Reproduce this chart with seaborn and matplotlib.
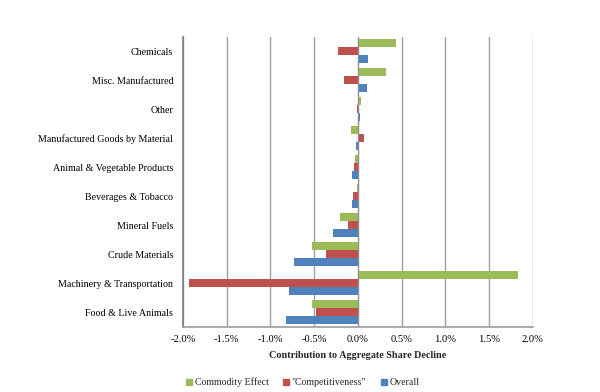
import matplotlib
matplotlib.use("Agg")
import matplotlib.pyplot as plt
import seaborn as sns
import pandas as pd
from matplotlib.ticker import FuncFormatter
from matplotlib.lines import Line2D

categories = ["Chemicals", "Misc. Manufactured", "Other", "Manufactured Goods by Material",
              "Animal & Vegetable Products", "Beverages & Tobacco", "Mineral Fuels",
              "Crude Materials", "Machinery & Transportation", "Food & Live Animals"]
series = ["Commodity Effect", "\"Competitiveness\"", "Overall"]
commodity = [0.43, 0.32, 0.04, -0.08, -0.035, -0.01, -0.21, -0.53, 1.83, -0.52]
competitiveness = [-0.225, -0.16, -0.01, 0.065, -0.05, -0.06, -0.11, -0.37, -1.93, -0.48]
overall = [0.12, 0.10, 0.02, -0.025, -0.065, -0.065, -0.28, -0.73, -0.79, -0.82]
xticks = [-2.0, -1.5, -1.0, -0.5, 0.0, 0.5, 1.0, 1.5, 2.0]
colors = ["#9BBB59", "#C0504D", "#4F81BD"]

rows = []
for vals, s in zip([commodity, competitiveness, overall], series):
    for c, v in zip(categories, vals):
        rows.append({"category": c, "series": s, "value": v})
df = pd.DataFrame(rows)

sns.set_theme(style="white")
plt.rcParams["font.family"] = ["Liberation Serif", "DejaVu Serif"]

fig = plt.figure(figsize=(6, 3.92), dpi=100)
ax = fig.add_axes([0.305, 0.166, 0.583, 0.740])
sns.barplot(data=df, y="category", x="value", hue="series", order=categories,
            hue_order=series, palette=colors, orient="h", width=0.83,
            saturation=1, ax=ax, legend=False, linewidth=0)

ax.set_xlim(-2.0, 2.0)
ax.set_xticks(xticks)
ax.xaxis.set_major_formatter(FuncFormatter(lambda v, p: f"{v:.1f}%"))
ax.grid(axis="x", color="#A0A0A0", linewidth=1.0)
ax.set_axisbelow(True)
ax.axvline(0, color="#909090", linewidth=0.8, zorder=1)
ax.tick_params(axis="x", length=0, labelsize=7.6, colors="black", pad=6)
ax.tick_params(axis="y", length=0, labelsize=7.2, colors="black", pad=7)
ax.set_ylabel("")
ax.set_xlabel("Contribution to Aggregate Share Decline", fontsize=7.3,
              fontweight="bold", labelpad=5)
for s in ["top", "right"]:
    ax.spines[s].set_visible(False)
ax.spines["left"].set_color("#808080")
ax.spines["bottom"].set_color("#A0A0A0")

handles = [Line2D([], [], marker="s", linestyle="", color=c, markersize=4.5) for c in colors]
fig.legend(handles, series, loc="center", bbox_to_anchor=(0.503, 0.024), ncol=3,
           frameon=False, fontsize=7.1, handletextpad=0.05, columnspacing=1.3,
           handlelength=1.0)

fig.savefig("out.png", dpi=100)
